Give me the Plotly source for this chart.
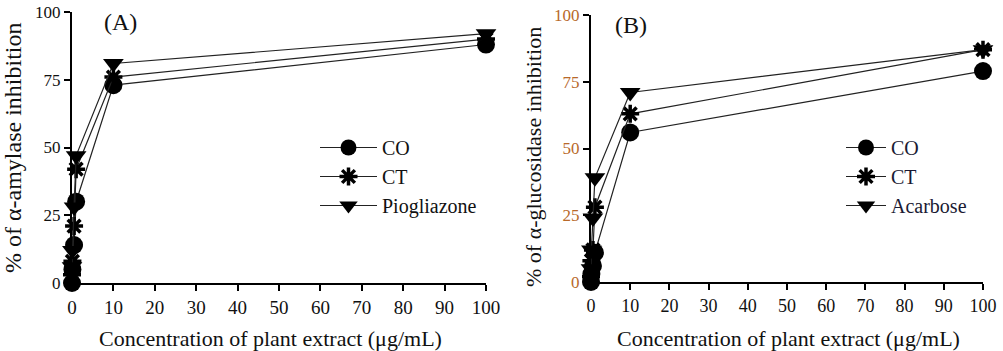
import plotly.graph_objects as go

# Data
conc = [0, 0.1, 0.5, 1, 10, 100]
a_co = [0, 5, 14, 30, 73, 88]
a_ct = [3, 8, 21, 42, 76, 90]
a_pio = [6, 12, 28, 47, 81, 92]
b_co = [0, 3, 6, 11, 56, 79]
b_ct = [2, 8, 12, 28, 63, 87]
b_aca = [5, 12, 24, 39, 71, 87]
x_ticks = [0, 10, 20, 30, 40, 50, 60, 70, 80, 90, 100]
y_ticks = [0, 25, 50, 75, 100]

W, H = 1003, 351
FONT = "Liberation Serif"
INK = "#111111"

def px_x(p):
    return p / W

def px_y(p):
    return 1 - p / H

fig = go.Figure()

def add(xs, ys, name, symbol, size, xa, ya, legend):
    fig.add_trace(go.Scatter(
        x=xs, y=ys, name=name, mode="lines+markers",
        xaxis=xa, yaxis=ya, legend=legend,
        line=dict(color="#222222", width=1.2),
        marker=dict(symbol=symbol, size=size, color="black",
                    line=dict(color="black", width=3.5 if "asterisk" in symbol else 0)),
        cliponaxis=False,
    ))

add(conc, a_co, "CO", "circle", 18, "x", "y", "legend")
add(conc, a_ct, "CT", "asterisk-open", 15, "x", "y", "legend")
add(conc, a_pio, "Piogliazone", "triangle-down", 18, "x", "y", "legend")
add(conc, b_co, "CO", "circle", 18, "x2", "y2", "legend2")
add(conc, b_ct, "CT", "asterisk-open", 15, "x2", "y2", "legend2")
add(conc, b_aca, "Acarbose", "triangle-down", 18, "x2", "y2", "legend2")

axis_common = dict(
    showgrid=False, zeroline=False, showline=True, linecolor="black", linewidth=2,
    ticks="outside", ticklen=6, tickwidth=2, tickcolor="black", automargin=False,
)

xtitle = "Concentration of plant extract (μg/mL)"

def ann(text, x, y, size, angle=0, color=INK, xanchor="center"):
    return dict(text=text, x=px_x(x), y=px_y(y), xref="paper", yref="paper",
                xanchor=xanchor, yanchor="middle", showarrow=False, textangle=angle,
                font=dict(size=size, family=FONT, color=color))

fig.update_layout(
    width=W, height=H,
    margin=dict(l=0, r=0, t=0, b=0, autoexpand=False),
    paper_bgcolor="white", plot_bgcolor="white",
    font=dict(family=FONT, color=INK, size=16),
    xaxis=dict(domain=[px_x(72), px_x(486)], range=[0, 100], tickvals=x_ticks,
               anchor="y", tickfont=dict(size=19), **axis_common),
    yaxis=dict(domain=[px_y(283), px_y(12)], range=[0, 100], tickvals=y_ticks,
               anchor="x", tickfont=dict(size=17), **axis_common),
    xaxis2=dict(domain=[px_x(591), px_x(983)], range=[0, 100], tickvals=x_ticks,
                anchor="y2", tickfont=dict(size=18), **axis_common),
    yaxis2=dict(domain=[px_y(282), px_y(15)], range=[0, 100], tickvals=y_ticks,
                anchor="x2", tickfont=dict(size=17, color="#b8692a"), **axis_common),
    legend=dict(x=px_x(315), y=px_y(128), xanchor="left", yanchor="top",
                bgcolor="rgba(0,0,0,0)", font=dict(size=20, family=FONT, color=INK),
                itemwidth=57, tracegroupgap=0),
    legend2=dict(x=px_x(841), y=px_y(128), xanchor="left", yanchor="top",
                 bgcolor="rgba(0,0,0,0)", font=dict(size=20, family=FONT, color="#1a1a33"),
                 itemwidth=40, tracegroupgap=0),
    showlegend=True,
    annotations=[
        ann("(A)", 102, 22, 24, xanchor="left"),
        ann("(B)", 613, 25, 24, xanchor="left"),
        ann("% of α-amylase inhibition", 13, 148, 24, angle=-90),
        ann("% of α-glucosidase inhibition", 533, 157, 22, angle=-90),
        ann(xtitle, 270, 338, 22),
        ann(xtitle, 788, 338, 22),
    ],
)

fig.write_html(
    "out.html",
    config={"displayModeBar": False},
    post_script="document.body.style.margin='0';document.body.style.padding='0';",
)
